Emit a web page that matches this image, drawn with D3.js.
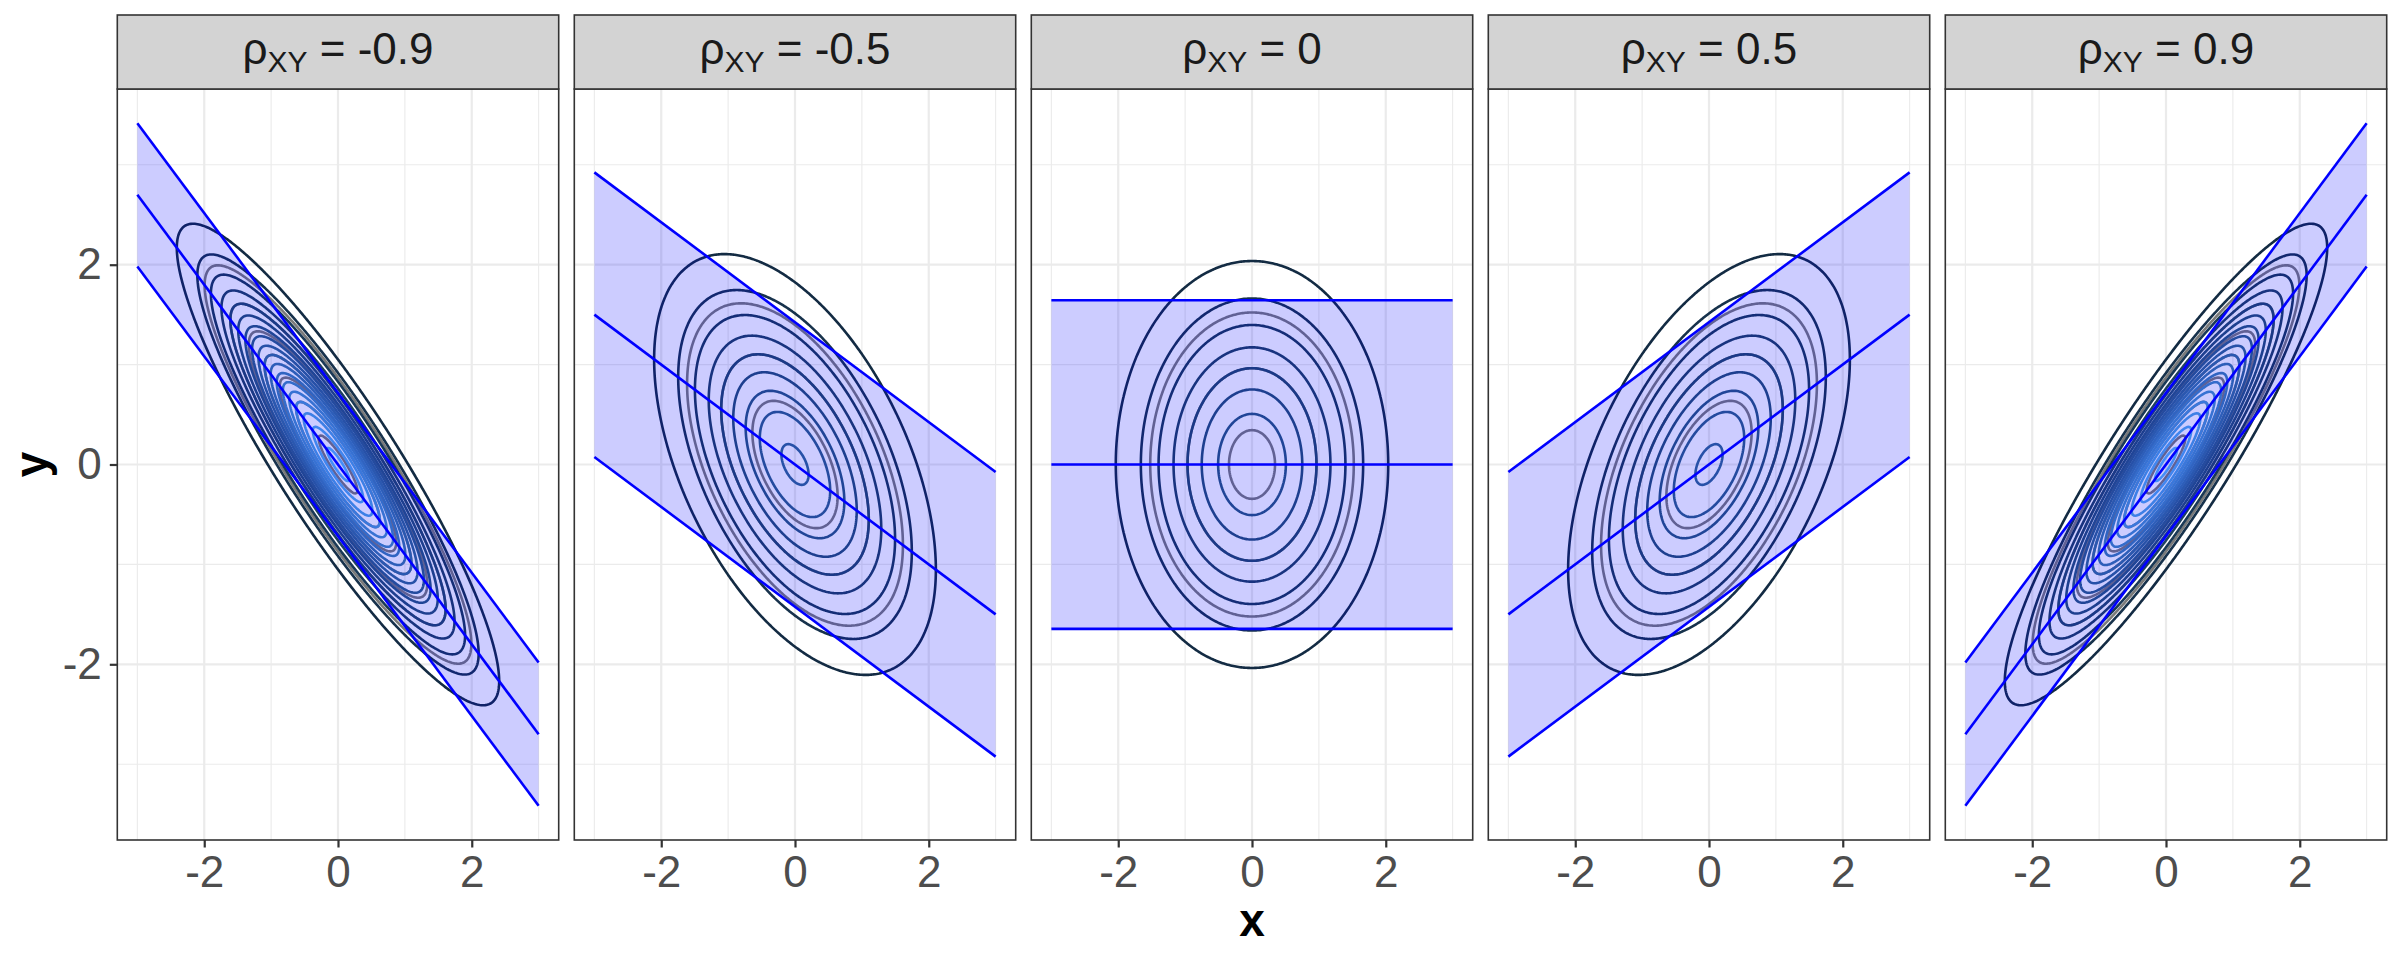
<!DOCTYPE html>
<html>
<meta charset="utf-8">
<head>
    <script src="https://d3js.org/d3.v7.min.js"></script>
    <style>
        body { margin: 0; background: #fff; }
        text { font-family: "Liberation Sans", Arial, sans-serif; }
    </style>
</head>
<body>
    <script>
        // facet values
        var rhoValues = [-0.9, -0.5, 0, 0.5, 0.9];
        var stripLabels = ["-0.9", "-0.5", "0", "0.5", "0.9"];

        // contour levels: coloured by level, and a second grey set
        var colourLevels = [0.02, 0.04, 0.06, 0.08, 0.10, 0.12, 0.14, 0.16, 0.18,
                            0.20, 0.22, 0.24, 0.26, 0.28, 0.30, 0.32, 0.34, 0.36];
        var greyLevels = [0.05, 0.10, 0.15, 0.20, 0.25, 0.30, 0.35];

        var majorTicks = [-2, 0, 2];
        var minorTicks = [-3, -1, 1, 3];
        var bandEnds = [-3, 3];
        var zCrit = 1.645;

        var width = 2400,
            height = 960,
            panelLeft = 117.3,
            panelStep = 457,
            panelWidth = 441.4,
            panelTop = 89,
            panelBottom = 840,
            stripTop = 15;

        var svg = d3.select("body").append("svg")
            .attr("width", width)
            .attr("height", height);

        svg.append("rect").attr("width", width).attr("height", height).attr("fill", "#fff");

        var x = d3.scaleLinear().domain([-3.3, 3.3]).range([0, panelWidth]);
        var y = d3.scaleLinear().domain([-3.759, 3.759]).range([panelBottom, panelTop]);

        var colour = d3.scaleLinear()
            .domain([0.02, 0.36])
            .range(["#132B43", "#56B1F7"])
            .interpolate(d3.interpolateLab);

        // density grid of the standard bivariate normal
        var gridMin = -3, gridStep = 0.02, n = 301;

        function densityGrid(rho) {
            var values = new Array(n * n),
                k = 1 / (2 * Math.PI * Math.sqrt(1 - rho * rho));
            for (var j = 0; j < n; j++) {
                var yv = gridMin + j * gridStep;
                for (var i = 0; i < n; i++) {
                    var xv = gridMin + i * gridStep;
                    var q = (xv * xv - 2 * rho * xv * yv + yv * yv) / (1 - rho * rho);
                    values[j * n + i] = k * Math.exp(-q / 2);
                }
            }
            return values;
        }

        var proj = d3.geoTransform({
            point: function(px, py) {
                this.stream.point(x(gridMin + (px - 0.5) * gridStep),
                                  y(gridMin + (py - 0.5) * gridStep));
            }
        });
        var path = d3.geoPath(proj);

        rhoValues.forEach(function(rho, idx) {
            var g = svg.append("g")
                .attr("transform", "translate(" + (panelLeft + idx * panelStep) + ",0)");

            // grid
            g.selectAll(".vminor").data(minorTicks).enter().append("line")
                .attr("x1", d => x(d)).attr("x2", d => x(d))
                .attr("y1", panelTop).attr("y2", panelBottom)
                .attr("stroke", "#EBEBEB").attr("stroke-width", 1.1);
            g.selectAll(".hminor").data(minorTicks).enter().append("line")
                .attr("x1", 0).attr("x2", panelWidth)
                .attr("y1", d => y(d)).attr("y2", d => y(d))
                .attr("stroke", "#EBEBEB").attr("stroke-width", 1.1);
            g.selectAll(".vmajor").data(majorTicks).enter().append("line")
                .attr("x1", d => x(d)).attr("x2", d => x(d))
                .attr("y1", panelTop).attr("y2", panelBottom)
                .attr("stroke", "#EBEBEB").attr("stroke-width", 2.2);
            g.selectAll(".hmajor").data(majorTicks).enter().append("line")
                .attr("x1", 0).attr("x2", panelWidth)
                .attr("y1", d => y(d)).attr("y2", d => y(d))
                .attr("stroke", "#EBEBEB").attr("stroke-width", 2.2);

            var values = densityGrid(rho);
            var contours = d3.contours().size([n, n]);

            g.selectAll(".grey").data(contours.thresholds(greyLevels)(values)).enter().append("path")
                .attr("d", path)
                .attr("fill", "none")
                .attr("stroke", "#7A7A7A")
                .attr("stroke-width", 2.6);

            g.selectAll(".col").data(contours.thresholds(colourLevels)(values)).enter().append("path")
                .attr("d", path)
                .attr("fill", "none")
                .attr("stroke", d => colour(d.value))
                .attr("stroke-width", 2.6);

            // prediction band
            var half = zCrit * Math.sqrt(1 - rho * rho);
            var area = d3.area()
                .x(d => x(d))
                .y0(d => y(rho * d - half))
                .y1(d => y(rho * d + half));
            g.append("path").datum(bandEnds)
                .attr("d", area)
                .attr("fill", "rgba(0,0,255,0.2)");

            [-half, 0, half].forEach(function(off) {
                var line = d3.line().x(d => x(d)).y(d => y(rho * d + off));
                g.append("path").datum(bandEnds)
                    .attr("d", line)
                    .attr("fill", "none")
                    .attr("stroke", "#0000FF")
                    .attr("stroke-width", 2.6);
            });

            // panel border
            g.append("rect")
                .attr("x", 0).attr("y", panelTop)
                .attr("width", panelWidth).attr("height", panelBottom - panelTop)
                .attr("fill", "none").attr("stroke", "#333333").attr("stroke-width", 1.6);

            // strip
            g.append("rect")
                .attr("x", 0).attr("y", stripTop)
                .attr("width", panelWidth).attr("height", panelTop - stripTop)
                .attr("fill", "#D3D3D3").attr("stroke", "#333333").attr("stroke-width", 1.6);

            var st = g.append("text")
                .attr("x", panelWidth / 2).attr("y", 64)
                .attr("text-anchor", "middle")
                .attr("font-size", 44)
                .attr("fill", "#1A1A1A");
            st.append("tspan").text("ρ");
            st.append("tspan").attr("font-size", 30).attr("dy", 7.7).text("XY");
            st.append("tspan").attr("dy", -7.7).text(" = " + stripLabels[idx]);

            // x axis
            var xAxis = g.append("g")
                .attr("transform", "translate(0," + panelBottom + ")")
                .call(d3.axisBottom(x).tickValues(majorTicks).tickFormat(d => String(d))
                    .tickSize(7.5).tickPadding(8));
            xAxis.select(".domain").remove();
            xAxis.selectAll("line").attr("stroke", "#333333").attr("stroke-width", 2.2);
            xAxis.selectAll("text").attr("font-size", 44).attr("fill", "#4D4D4D")
                .style("font-family", "'Liberation Sans', Arial, sans-serif");

            if (idx === 0) {
                var yAxis = g.append("g")
                    .call(d3.axisLeft(y).tickValues(majorTicks).tickFormat(d => String(d))
                        .tickSize(7.5).tickPadding(8));
                yAxis.select(".domain").remove();
                yAxis.selectAll("line").attr("stroke", "#333333").attr("stroke-width", 2.2);
                yAxis.selectAll("text").attr("font-size", 44).attr("fill", "#4D4D4D")
                    .style("font-family", "'Liberation Sans', Arial, sans-serif");
            }
        });

        // axis titles
        svg.append("text")
            .attr("x", (panelLeft + panelLeft + 4 * panelStep + panelWidth) / 2)
            .attr("y", 936)
            .attr("text-anchor", "middle")
            .attr("font-size", 46)
            .attr("font-weight", "bold")
            .attr("fill", "#000")
            .text("x");

        svg.append("text")
            .attr("transform", "translate(47," + (panelTop + panelBottom) / 2 + ") rotate(-90)")
            .attr("text-anchor", "middle")
            .attr("font-size", 46)
            .attr("font-weight", "bold")
            .attr("fill", "#000")
            .text("y");
    </script>
</body>
</html>
